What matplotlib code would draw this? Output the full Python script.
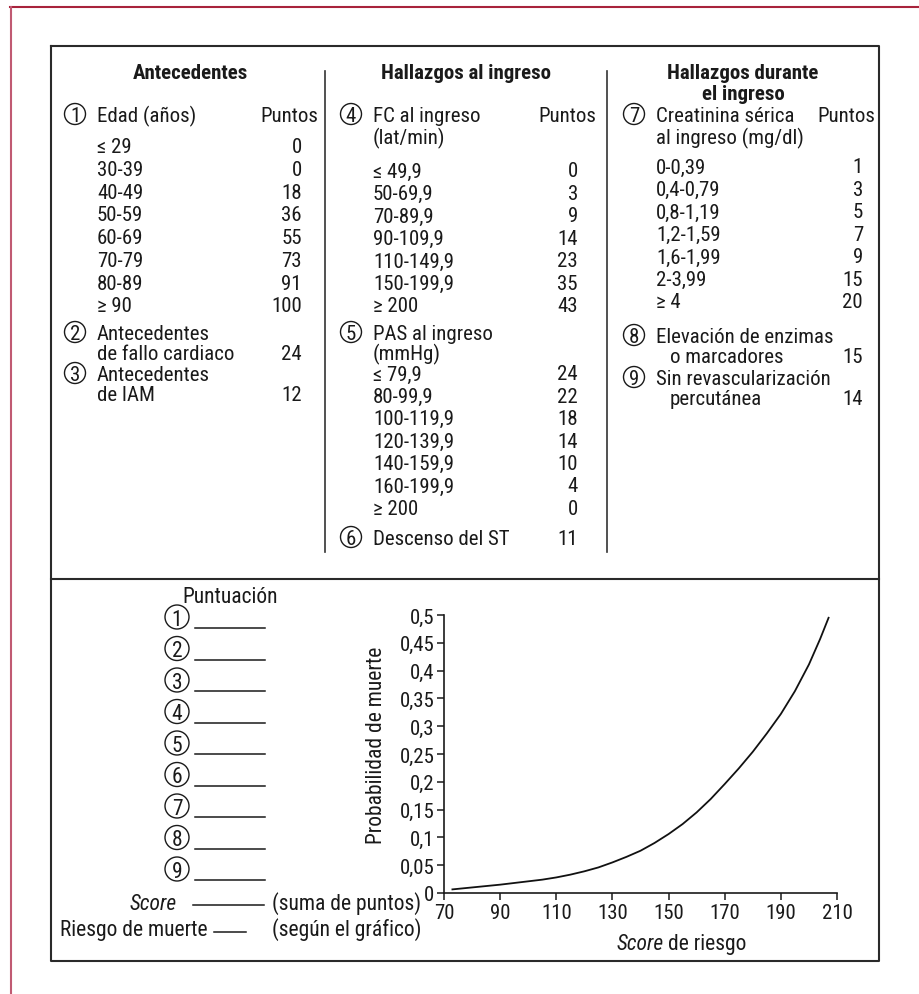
import matplotlib
matplotlib.use('Agg')
import matplotlib.pyplot as plt
from matplotlib.patches import Circle

plt.rcParams['font.family'] = ['Roboto Condensed', 'DejaVu Sans']

W, H = 919, 995

# datos de la tabla (puntos GRACE)
edad_rangos = ['≤ 29', '30-39', '40-49', '50-59', '60-69', '70-79', '80-89', '≥ 90']
edad_puntos = [0, 0, 18, 36, 55, 73, 91, 100]
fc_rangos = ['≤ 49,9', '50-69,9', '70-89,9', '90-109,9', '110-149,9', '150-199,9', '≥ 200']
fc_puntos = [0, 3, 9, 14, 23, 35, 43]
pas_rangos = ['≤ 79,9', '80-99,9', '100-119,9', '120-139,9', '140-159,9', '160-199,9', '≥ 200']
pas_puntos = [24, 22, 18, 14, 10, 4, 0]
creat_rangos = ['0-0,39', '0,4-0,79', '0,8-1,19', '1,2-1,59', '1,6-1,99', '2-3,99', '≥ 4']
creat_puntos = [1, 3, 5, 7, 9, 15, 20]
fallo_puntos = 24
iam_puntos = 12
st_puntos = 11
enzimas_puntos = 15
revasc_puntos = 14

# curva score de riesgo -> probabilidad de muerte
score = [73, 80, 85, 90, 95, 100, 105, 110, 115, 120, 125, 130, 135, 140,
         145, 150, 155, 160, 165, 170, 175, 180, 185, 190, 195, 200, 204, 207]
prob = [0.0065, 0.010, 0.0125, 0.015, 0.018, 0.021, 0.024, 0.028, 0.033, 0.039,
        0.046, 0.055, 0.065, 0.076, 0.090, 0.106, 0.124, 0.145, 0.169, 0.196,
        0.224, 0.254, 0.287, 0.322, 0.363, 0.411, 0.457, 0.495]
xticks = [70, 90, 110, 130, 150, 170, 190, 210]
yticks = [0, 0.05, 0.1, 0.15, 0.2, 0.25, 0.3, 0.35, 0.4, 0.45, 0.5]
ylabels = ['0', '0,05', '0,1', '0,15', '0,2', '0,25', '0,3', '0,35', '0,4', '0,45', '0,5']

FS = 15
FS2 = 15.5
INK = '#1a1a1a'

fig = plt.figure(figsize=(W / 100, H / 100), dpi=100)
bg = fig.add_axes([0, 0, 1, 1])
bg.set_xlim(0, W)
bg.set_ylim(H, 0)
bg.axis('off')


def txt(x, y, s, ha='left', fs=FS, **kw):
    # y = centro visual de las mayusculas
    cap = fs / 72 * 100 * 0.71
    bg.text(x, y + cap / 2, s, ha=ha, va='baseline', fontsize=fs, color=INK, **kw)


def num(x, y, n, r=10.5, fs=FS):
    bg.add_patch(Circle((x, y), r, fill=False, lw=1.0, ec=INK))
    txt(x, y, str(n), ha='center', fs=fs)


# marco rojo de la pagina
bg.plot([10, W], [8, 8], color='#a8233c', lw=1.5)
bg.plot([10.5, 10.5], [8, H], color='#c05a72', lw=1.5)

# caja
bg.plot([51, 879, 879, 51, 51], [47, 47, 962, 962, 47], color='#2a2a2a', lw=1.5)
bg.plot([51, 879], [580, 580], color='#2a2a2a', lw=1.5)
bg.plot([325, 325], [72, 553], color='#333333', lw=1.2)
bg.plot([607, 607], [72, 553], color='#333333', lw=1.2)

# columna 1
txt(190, 72, 'Antecedentes', ha='center', fontweight='bold')
num(75, 115, 1)
txt(97, 115, 'Edad (años)')
txt(318, 115, 'Puntos', ha='right')
for i, (r, p) in enumerate(zip(edad_rangos, edad_puntos)):
    y = 146 + 22.7 * i
    txt(97, y, r)
    txt(302, y, str(p), ha='right')
num(75, 333, 2)
txt(97, 333, 'Antecedentes')
txt(97, 353, 'de fallo cardiaco')
txt(302, 353, str(fallo_puntos), ha='right')
num(75, 374, 3)
txt(97, 374, 'Antecedentes')
txt(97, 394, 'de IAM')
txt(302, 394, str(iam_puntos), ha='right')

# columna 2
txt(466, 72, 'Hallazgos al ingreso', ha='center', fontweight='bold')
num(351, 115, 4)
txt(373, 115, 'FC al ingreso')
txt(596, 115, 'Puntos', ha='right')
txt(373, 137, '(lat/min)')
for i, (r, p) in enumerate(zip(fc_rangos, fc_puntos)):
    y = 170 + 22.5 * i
    txt(373, y, r)
    txt(578, y, str(p), ha='right')
num(351, 333, 5)
txt(373, 333, 'PAS al ingreso')
txt(373, 353, '(mmHg)')
for i, (r, p) in enumerate(zip(pas_rangos, pas_puntos)):
    y = 373 + 22.4 * i
    txt(373, y, r)
    txt(578, y, str(p), ha='right')
num(351, 538, 6)
txt(373, 538, 'Descenso del ST')
txt(578, 538, str(st_puntos), ha='right')

# columna 3
txt(743, 72, 'Hallazgos durante', ha='center', fontweight='bold')
txt(743, 93, 'el ingreso', ha='center', fontweight='bold')
num(634, 115, 7)
txt(656, 115, 'Creatinina sérica')
txt(875, 115, 'Puntos', ha='right')
txt(656, 137, 'al ingreso (mg/dl)')
for i, (r, p) in enumerate(zip(creat_rangos, creat_puntos)):
    y = 166 + 22.5 * i
    txt(656, y, r)
    txt(863, y, str(p), ha='right')
num(634, 336, 8)
txt(656, 336, 'Elevación de enzimas')
txt(670, 356, 'o marcadores')
txt(863, 356, str(enzimas_puntos), ha='right')
num(634, 378, 9)
txt(656, 378, 'Sin revascularización')
txt(670, 398, 'percutánea')
txt(863, 398, str(revasc_puntos), ha='right')

# hoja de puntuacion
txt(230, 595, 'Puntuación', ha='center', fs=FS2)
for i in range(9):
    y = 618 + 31.5 * i
    num(177, y, i + 1, r=12, fs=FS2)
    bg.plot([195, 265], [y + 11, y + 11], color=INK, lw=1.1)
txt(177, 902, 'Score', ha='right', fs=FS2, style='italic')
bg.plot([193, 264], [906, 906], color=INK, lw=1.1)
txt(272, 902, '(suma de puntos)', fs=FS2)
txt(60, 928, 'Riesgo de muerte', fs=FS2)
bg.plot([214, 246], [933, 933], color=INK, lw=1.1)
txt(272, 928, '(según el gráfico)', fs=FS2)

# grafico
ax = fig.add_axes([444 / W, 1 - 894 / H, (837 - 444) / W, (894 - 616) / H])
ax.patch.set_alpha(0)
ax.plot(score, prob, color='#111111', lw=1.3, solid_joinstyle='round')
ax.set_xlim(70, 210)
ax.set_ylim(0, 0.5)
ax.set_xticks(xticks)
ax.set_yticks(yticks, ylabels)
for s in ['top', 'right']:
    ax.spines[s].set_visible(False)
for s in ['left', 'bottom']:
    ax.spines[s].set_linewidth(1.2)
    ax.spines[s].set_color(INK)
ax.tick_params(direction='out', length=5, width=1.1, labelsize=15, pad=2, colors=INK)

bg.text(377, 745, 'Probabilidad de muerte', ha='center', va='center', fontsize=FS2,
        rotation=90, color=INK)
txt(664, 942, 'Score', ha='right', fs=FS2, style='italic')
txt(668, 942, 'de riesgo', fs=FS2)

plt.savefig('out.png', dpi=100)
